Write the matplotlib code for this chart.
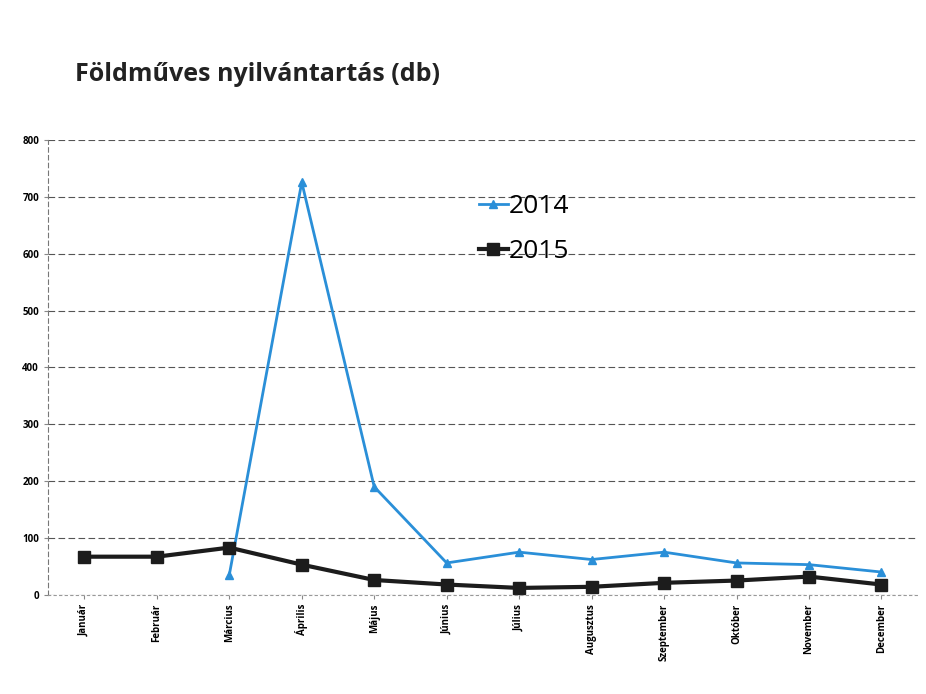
import numpy as np
import matplotlib.pyplot as plt

honapok = ["Január", "Február", "Március", "Április", "Május", "Június",
           "Július", "Augusztus", "Szeptember", "Október", "November", "December"]
ev2014 = [np.nan, np.nan, 35, 726, 190, 56, 75, 62, 75, 56, 53, 40]
ev2015 = [67, 67, 83, 53, 26, 18, 12, 14, 21, 25, 32, 18]

plt.rcParams['font.family'] = ['Open Sans', 'DejaVu Sans']

fig = plt.figure(figsize=(9.26, 6.94), dpi=100)
ax = fig.add_axes([0.052, 0.143, 0.939, 0.655])

x = np.arange(len(honapok))
ax.plot(x, ev2014, color='#2a8fd8', lw=2, marker='^', ms=6, label='2014')
ax.plot(x, ev2015, color='#1c1c1c', lw=3, marker='s', ms=8, label='2015')

ax.set_xlim(-0.5, len(honapok) - 0.5)
ax.set_ylim(0, 800)
ax.set_yticks(range(0, 801, 100))
ax.set_xticks(x)
ax.set_xticklabels(honapok, rotation=90, fontsize=7, fontweight='bold')
for t in ax.get_yticklabels():
    t.set_fontsize(7)
    t.set_fontweight('bold')
ax.yaxis.grid(True, color='#555555', lw=0.8, ls=(0, (6, 3)))
ax.set_axisbelow(True)
for s in ['top', 'right']:
    ax.spines[s].set_visible(False)
ax.spines['left'].set_linestyle((0, (4, 3)))
ax.spines['left'].set_color('#777777')
ax.spines['bottom'].set_linestyle((0, (2, 3)))
ax.spines['bottom'].set_color('#999999')
ax.tick_params(length=3, color='#888888')

fig.text(0.081, 0.892, "Földműves nyilvántartás (db)", fontsize=18,
         fontweight='bold', color='#222222', va='center')

ax.legend(loc='upper left', bbox_to_anchor=(0.468, 0.933), frameon=False,
          fontsize=19, handlelength=1.1, handletextpad=0.05, labelspacing=0.75)

fig.savefig('out.png', dpi=100)
